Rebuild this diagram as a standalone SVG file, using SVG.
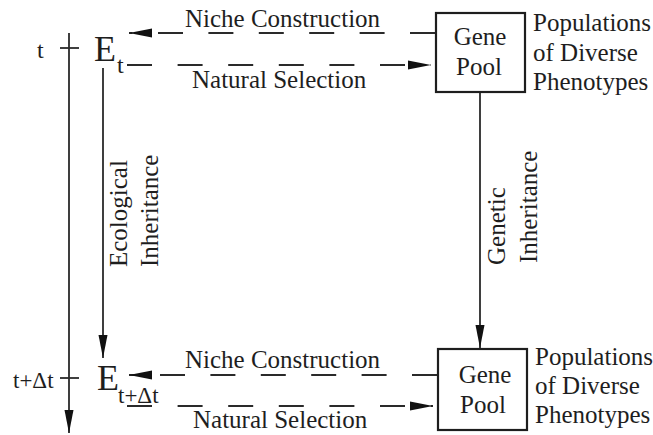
<svg xmlns="http://www.w3.org/2000/svg" width="653" height="435" viewBox="0 0 653 435">
<style>
  text { font-family: "Liberation Serif", "Times New Roman", serif; fill: #1e1e1e; }
  .lbl { font-size: 25px; }
  .sm { font-size: 24px; }
  .big { font-size: 36px; }
  .ln { stroke: #2a2a2a; stroke-width: 1.8; fill: none; }
  .dash { stroke: #2a2a2a; stroke-width: 1.8; fill: none; }
  .box { stroke: #1e1e1e; stroke-width: 2.2; fill: #ffffff; }
</style>
<defs>
  <marker id="ah" viewBox="0 -5 24 10" refX="23" refY="0" markerWidth="24" markerHeight="10" markerUnits="userSpaceOnUse" orient="auto" overflow="visible">
    <path d="M0,-4.5 L23,0 L0,4.5 z" fill="#111"/>
  </marker>
</defs>

<g id="connectors">
  <line id="time-axis" class="ln" x1="69" y1="33" x2="69" y2="433" marker-end="url(#ah)"/>
  <line id="tick-t" class="ln" x1="60" y1="48" x2="79" y2="48"/>
  <line id="tick-tdt" class="ln" x1="60" y1="378" x2="79" y2="378"/>
  <line id="eco-inh" class="ln" x1="103" y1="68" x2="103" y2="358" marker-end="url(#ah)"/>
  <line id="gen-inh" class="ln" x1="480" y1="92" x2="480" y2="348" marker-end="url(#ah)"/>
  <line id="niche-top" class="dash" x1="435" y1="33" x2="129" y2="33" stroke-dasharray="25 25.4" marker-end="url(#ah)"/>
  <line id="sel-top" class="dash" x1="127" y1="65" x2="431" y2="65" stroke-dasharray="25 25.6" marker-end="url(#ah)"/>
  <line id="niche-bot" class="dash" x1="437" y1="375" x2="129" y2="375" stroke-dasharray="25 25.4" marker-end="url(#ah)"/>
  <line id="sel-bot" class="dash" x1="127" y1="406" x2="433" y2="406" stroke-dasharray="25 25.6" marker-end="url(#ah)"/>
</g>

<g id="labels-connectors">
  <text class="lbl" x="185" y="27">Niche Construction</text>
  <text class="lbl" x="192" y="88">Natural Selection</text>
  <text class="lbl" x="185" y="368">Niche Construction</text>
  <text class="lbl" x="193" y="428">Natural Selection</text>
  <text class="lbl" transform="translate(127,267) rotate(-90)">Ecological</text>
  <text class="lbl" transform="translate(158,267) rotate(-90)">Inheritance</text>
  <text class="lbl" transform="translate(505,265) rotate(-90)">Genetic</text>
  <text class="lbl" transform="translate(537,263) rotate(-90)">Inheritance</text>
</g>

<g id="time-t">
  <text class="sm" x="37" y="58">t</text>
</g>
<g id="time-tdt">
  <text class="sm" x="13" y="388" style="font-size:23px">t+Δt</text>
</g>

<g id="E-t">
  <text class="big" x="94" y="61">E</text>
  <text class="sm" x="117" y="73">t</text>
</g>
<g id="E-tdt">
  <text class="big" x="97" y="390">E</text>
  <text class="sm" x="118" y="403" style="font-size:23px">t+Δt</text>
</g>

<g id="gene-pool-top">
  <rect class="box" x="436" y="13" width="89" height="79"/>
  <text class="lbl" x="480" y="45" text-anchor="middle">Gene</text>
  <text class="lbl" x="479" y="75" text-anchor="middle">Pool</text>
</g>
<g id="populations-top">
  <text class="lbl" x="533" y="31">Populations</text>
  <text class="lbl" x="533" y="61">of Diverse</text>
  <text class="lbl" x="533" y="90">Phenotypes</text>
</g>

<g id="gene-pool-bot">
  <rect class="box" x="438" y="349" width="89" height="81"/>
  <text class="lbl" x="485" y="383" text-anchor="middle">Gene</text>
  <text class="lbl" x="483" y="413" text-anchor="middle">Pool</text>
</g>
<g id="populations-bot">
  <text class="lbl" x="535" y="365">Populations</text>
  <text class="lbl" x="535" y="394">of Diverse</text>
  <text class="lbl" x="535" y="423">Phenotypes</text>
</g>
</svg>
